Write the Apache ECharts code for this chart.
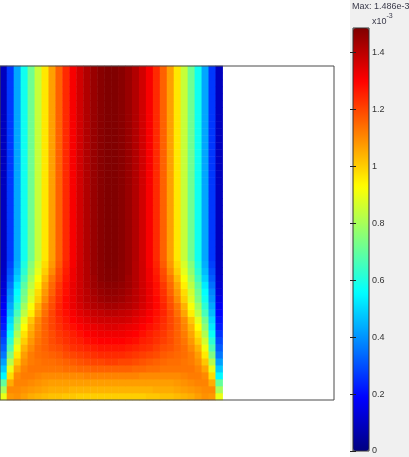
<!DOCTYPE html>
<html>
<head>
<meta charset="utf-8">
<script src="https://cdn.jsdelivr.net/npm/echarts@6/dist/echarts.min.js"></script>
<style>
html,body{margin:0;padding:0;background:#f0f0f0;}
#chart{width:409px;height:457px;}
</style>
</head>
<body>
<div id="chart"></div>
<script>
// Velocity magnitude (x10^-3), 32 columns across the channel, rows from the bottom (inlet) upward
const maxValue = 1.486;
const tickValues = [0, 0.2, 0.4, 0.6, 0.8, 1, 1.2, 1.4];
const fullyDeveloped = [0.091,0.266,0.428,0.579,0.718,0.846,0.962,1.067,1.160,1.241,1.310,1.368,1.415,1.450,1.473,1.485,1.485,1.473,1.450,1.415,1.368,1.310,1.241,1.160,1.067,0.962,0.846,0.718,0.579,0.428,0.266,0.091];
const developingRows = [
  [0.90,1.08,1.09,1.07,1.05,1.04,1.03,1.02,1.02,1.01,1.01,1.00,1.00,1.00,1.00,1.00,1.00,1.00,1.00,1.00,1.00,1.01,1.01,1.02,1.02,1.03,1.04,1.05,1.07,1.09,1.08,0.90],
  [0.80,1.10,1.10,1.09,1.08,1.07,1.06,1.05,1.05,1.05,1.04,1.04,1.04,1.04,1.04,1.04,1.04,1.04,1.04,1.04,1.04,1.04,1.05,1.05,1.05,1.06,1.07,1.08,1.09,1.10,1.10,0.80],
  [0.70,1.05,1.11,1.11,1.10,1.09,1.08,1.07,1.07,1.07,1.07,1.07,1.07,1.07,1.07,1.07,1.07,1.07,1.07,1.07,1.07,1.07,1.07,1.07,1.07,1.08,1.09,1.10,1.11,1.11,1.05,0.70],
  [0.55,0.98,1.10,1.12,1.12,1.11,1.10,1.10,1.10,1.10,1.10,1.10,1.11,1.11,1.11,1.11,1.11,1.11,1.11,1.11,1.10,1.10,1.10,1.10,1.10,1.10,1.11,1.12,1.12,1.10,0.98,0.55],
  [0.48,0.90,1.06,1.11,1.13,1.13,1.13,1.13,1.13,1.14,1.14,1.15,1.15,1.16,1.16,1.16,1.16,1.16,1.16,1.15,1.15,1.14,1.14,1.13,1.13,1.13,1.13,1.13,1.11,1.06,0.90,0.48],
  [0.42,0.82,1.01,1.09,1.12,1.13,1.14,1.14,1.15,1.16,1.17,1.18,1.19,1.20,1.20,1.21,1.21,1.20,1.20,1.19,1.18,1.17,1.16,1.15,1.14,1.14,1.13,1.12,1.09,1.01,0.82,0.42],
  [0.36,0.74,0.96,1.07,1.12,1.14,1.15,1.16,1.17,1.19,1.20,1.21,1.22,1.23,1.24,1.24,1.24,1.24,1.23,1.22,1.21,1.20,1.19,1.17,1.16,1.15,1.14,1.12,1.07,0.96,0.74,0.36],
  [0.32,0.67,0.91,1.04,1.10,1.14,1.16,1.18,1.19,1.21,1.23,1.24,1.25,1.26,1.27,1.27,1.27,1.27,1.26,1.25,1.24,1.23,1.21,1.19,1.18,1.16,1.14,1.10,1.04,0.91,0.67,0.32],
  [0.29,0.62,0.86,1.00,1.08,1.13,1.16,1.19,1.21,1.23,1.25,1.26,1.28,1.29,1.30,1.30,1.30,1.30,1.29,1.28,1.26,1.25,1.23,1.21,1.19,1.16,1.13,1.08,1.00,0.86,0.62,0.29],
  [0.26,0.57,0.81,0.97,1.06,1.12,1.16,1.19,1.22,1.24,1.26,1.28,1.30,1.31,1.32,1.32,1.32,1.32,1.31,1.30,1.28,1.26,1.24,1.22,1.19,1.16,1.12,1.06,0.97,0.81,0.57,0.26],
  [0.23,0.53,0.76,0.93,1.04,1.11,1.16,1.20,1.23,1.26,1.28,1.30,1.32,1.33,1.34,1.35,1.35,1.34,1.33,1.32,1.30,1.28,1.26,1.23,1.20,1.16,1.11,1.04,0.93,0.76,0.53,0.23],
  [0.21,0.50,0.72,0.89,1.01,1.10,1.16,1.20,1.24,1.27,1.30,1.32,1.34,1.36,1.37,1.37,1.37,1.37,1.36,1.34,1.32,1.30,1.27,1.24,1.20,1.16,1.10,1.01,0.89,0.72,0.50,0.21],
  [0.19,0.46,0.66,0.83,0.95,1.06,1.14,1.20,1.25,1.28,1.31,1.34,1.36,1.38,1.39,1.40,1.40,1.39,1.38,1.36,1.34,1.31,1.28,1.25,1.20,1.14,1.06,0.95,0.83,0.66,0.46,0.19],
  [0.17,0.43,0.62,0.79,0.92,1.04,1.13,1.19,1.25,1.29,1.33,1.36,1.39,1.41,1.42,1.43,1.43,1.42,1.41,1.39,1.36,1.33,1.29,1.25,1.19,1.13,1.04,0.92,0.79,0.62,0.43,0.17],
  [0.15,0.40,0.58,0.74,0.88,1.00,1.10,1.18,1.24,1.29,1.33,1.37,1.40,1.42,1.44,1.45,1.45,1.44,1.42,1.40,1.37,1.33,1.29,1.24,1.18,1.10,1.00,0.88,0.74,0.58,0.40,0.15],
  [0.13,0.38,0.56,0.72,0.86,0.98,1.08,1.16,1.23,1.28,1.33,1.37,1.40,1.43,1.45,1.46,1.46,1.45,1.43,1.40,1.37,1.33,1.28,1.23,1.16,1.08,0.98,0.86,0.72,0.56,0.38,0.13],
  [0.12,0.35,0.53,0.69,0.83,0.95,1.06,1.15,1.22,1.28,1.33,1.37,1.41,1.44,1.46,1.47,1.47,1.46,1.44,1.41,1.37,1.33,1.28,1.22,1.15,1.06,0.95,0.83,0.69,0.53,0.35,0.12],
  [0.11,0.32,0.49,0.65,0.80,0.92,1.03,1.13,1.20,1.27,1.32,1.37,1.41,1.44,1.47,1.48,1.48,1.47,1.44,1.41,1.37,1.32,1.27,1.20,1.13,1.03,0.92,0.80,0.65,0.49,0.32,0.11],
  [0.10,0.30,0.46,0.62,0.77,0.89,1.00,1.10,1.19,1.26,1.32,1.37,1.41,1.45,1.47,1.48,1.48,1.47,1.45,1.41,1.37,1.32,1.26,1.19,1.10,1.00,0.89,0.77,0.62,0.46,0.30,0.10],
  [0.095,0.28,0.44,0.60,0.75,0.87,0.98,1.08,1.17,1.25,1.31,1.37,1.41,1.45,1.47,1.485,1.485,1.47,1.45,1.41,1.37,1.31,1.25,1.17,1.08,0.98,0.87,0.75,0.60,0.44,0.28,0.095]
];
const upperRowCount = 28;
const jetColors = ['#000080','#0000ff','#0080ff','#00ffff','#80ff80','#ffff00','#ff8000','#ff0000','#800000'];

const rows = developingRows.concat(Array.from({length: upperRowCount}, () => fullyDeveloped));
const xCategories = Array.from({length: 48}, (_, i) => 'c' + i);
const yCategories = Array.from({length: rows.length}, (_, i) => 'r' + i);
const heatData = [];
rows.forEach((row, r) => row.forEach((v, c) => heatData.push([c, r, v])));

const font = 'Liberation Sans, Arial, sans-serif';
const chart = echarts.init(document.getElementById('chart'));
chart.setOption({
  backgroundColor: '#f0f0f0',
  animation: false,
  graphic: [
    {type: 'rect', z: -100, silent: true, shape: {x: 0, y: 0, width: 350, height: 457}, style: {fill: '#ffffff'}},
    {type: 'text', left: 352, top: 2, style: {text: 'Max: 1.486e-3', fill: '#3a3a4a', font: '9px ' + font}},
    {type: 'text', left: 372, top: 13, style: {text: '{a|x10}{b|-3}', fill: '#3a3a4a', rich: {a: {fontSize: 9, fontFamily: font, padding: [4, 0, 0, 0]}, b: {fontSize: 7, fontFamily: font, verticalAlign: 'top'}}}}
  ],
  grid: [
    {left: 0, top: 66, width: 334, height: 334, show: true, z: 3, borderColor: '#4a4a4a', borderWidth: 1, backgroundColor: 'transparent'},
    {left: 353, top: 28, width: 16, height: 423, show: true, z: 10, borderColor: '#333', borderWidth: 1, backgroundColor: 'transparent'}
  ],
  xAxis: [
    {type: 'category', gridIndex: 0, data: xCategories, show: false},
    {type: 'value', gridIndex: 1, show: false, min: 0, max: 1}
  ],
  yAxis: [
    {type: 'category', gridIndex: 0, data: yCategories, show: false},
    {type: 'value', gridIndex: 1, position: 'right', min: 0, max: maxValue, interval: 0.2, z: 10,
      axisLine: {show: false}, splitLine: {show: false},
      axisTick: {show: true, inside: true, length: 3, lineStyle: {color: '#222'}, customValues: tickValues},
      axisLabel: {margin: 3, fontSize: 9, color: '#333', fontFamily: font, customValues: tickValues}},
    {type: 'value', gridIndex: 1, position: 'left', min: 0, max: maxValue, interval: 0.2, z: 10,
      axisLine: {show: false}, splitLine: {show: false},
      axisTick: {show: true, inside: true, length: 3, lineStyle: {color: '#222'}, customValues: tickValues},
      axisLabel: {show: false}}
  ],
  visualMap: {
    type: 'continuous', min: 0, max: maxValue, dimension: 2, seriesIndex: 0,
    calculable: false, orient: 'vertical', left: 353, top: 28, padding: 0,
    itemWidth: 16, itemHeight: 423, text: null, showLabel: false,
    inRange: {color: jetColors}
  },
  series: [{
    type: 'heatmap', xAxisIndex: 0, yAxisIndex: 0, data: heatData,
    emphasis: {disabled: true}, progressive: 0
  }]
});
</script>
</body>
</html>
